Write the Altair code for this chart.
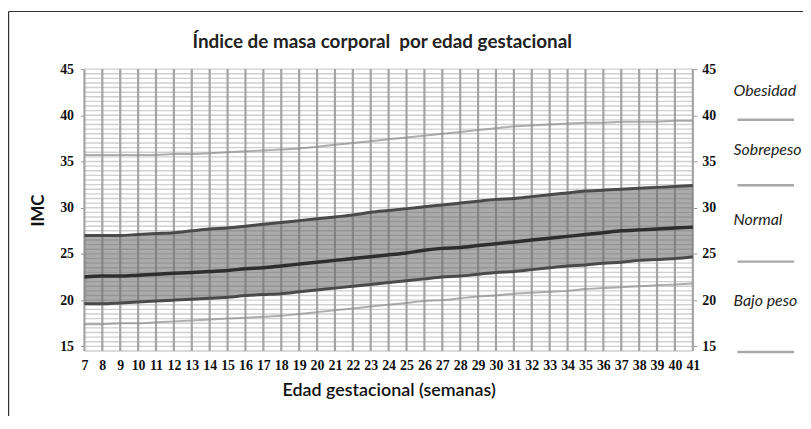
import altair as alt
import pandas as pd
import numpy as np

# ---------------- data ----------------
weeks = list(range(7, 42))
upper = [27.0, 27.0, 27.0, 27.1, 27.2, 27.3, 27.5, 27.7, 27.8, 28.0, 28.2, 28.4,
         28.6, 28.8, 29.0, 29.2, 29.5, 29.7, 29.9, 30.1, 30.3, 30.5, 30.7, 30.9,
         31.0, 31.2, 31.4, 31.6, 31.8, 31.9, 32.0, 32.1, 32.2, 32.3, 32.4]
middle = [22.5, 22.6, 22.6, 22.7, 22.8, 22.9, 23.0, 23.1, 23.2, 23.4, 23.5, 23.7,
          23.9, 24.1, 24.3, 24.5, 24.7, 24.9, 25.1, 25.4, 25.6, 25.7, 25.9, 26.1,
          26.3, 26.5, 26.7, 26.9, 27.1, 27.3, 27.5, 27.6, 27.7, 27.8, 27.9]
lower = [19.6, 19.6, 19.7, 19.8, 19.9, 20.0, 20.1, 20.2, 20.3, 20.5, 20.6, 20.7,
         20.9, 21.1, 21.3, 21.5, 21.7, 21.9, 22.1, 22.3, 22.5, 22.6, 22.8, 23.0,
         23.1, 23.3, 23.5, 23.7, 23.8, 24.0, 24.1, 24.3, 24.4, 24.5, 24.7]
obesidad = [35.7, 35.7, 35.7, 35.7, 35.7, 35.8, 35.8, 35.9, 36.0, 36.1, 36.2, 36.3,
            36.4, 36.6, 36.8, 37.0, 37.2, 37.4, 37.6, 37.8, 38.0, 38.2, 38.4, 38.6,
            38.8, 38.9, 39.0, 39.1, 39.2, 39.2, 39.3, 39.3, 39.3, 39.4, 39.4]
bajo = [17.4, 17.4, 17.5, 17.5, 17.6, 17.7, 17.8, 17.9, 18.0, 18.1, 18.2, 18.3,
        18.5, 18.7, 18.9, 19.1, 19.3, 19.5, 19.7, 19.9, 20.0, 20.2, 20.4, 20.5,
        20.7, 20.8, 20.9, 21.0, 21.2, 21.3, 21.4, 21.5, 21.6, 21.7, 21.8]
y_ticks = [15, 20, 25, 30, 35, 40, 45]
x_ticks = weeks
legend_labels = ["Obesidad", "Sobrepeso", "Normal", "Bajo peso"]

title_text = "Índice de masa corporal\u00a0 por edad gestacional"
x_title = "Edad gestacional (semanas)"
y_title = "IMC"

df = pd.DataFrame({"semana": weeks, "sup": upper, "med": middle, "inf": lower,
                   "obes": obesidad, "bajo": bajo})
grid_df = pd.DataFrame({"g": np.arange(14.5, 45.01, 0.5)})

# ---------------- layout ----------------
W, H = 613, 284
xscale = alt.Scale(domain=[7, 41], nice=False, zero=False)
yscale = alt.Scale(domain=[14.5, 45], nice=False, zero=False)
NUM_FONT = "Liberation Serif"
TXT_FONT = "Lato"

x_axis = alt.Axis(values=x_ticks, title=x_title, labelOverlap=False,
                  labelFlush=False, ticks=False, domain=False, grid=False,
                  labelFont=NUM_FONT, labelFontSize=14, labelColor="#111",
                  labelFontWeight="bold", labelPadding=8,
                  titleFont=TXT_FONT, titleFontSize=18,
                  titleFontWeight=600, titleColor="#111", titlePadding=9)
x_enc = alt.X("semana:Q", scale=xscale, axis=x_axis)

hgrid = alt.Chart(grid_df).mark_rule(color="#cfcfcf", strokeWidth=1.4).encode(
    y=alt.Y("g:Q", scale=yscale, axis=None)
)

vgrid = alt.Chart(df).mark_rule(color="#a4a4a4", strokeWidth=2.2).encode(x=x_enc)

band = alt.Chart(df).mark_area(color="#6a6a6a", opacity=0.56).encode(
    x=x_enc,
    y=alt.Y("inf:Q", scale=yscale,
            axis=alt.Axis(orient="right", values=y_ticks, title=None, grid=False,
                          labelFlush=False, domain=False, tickSize=4,
                          tickColor="#999", labelPadding=5, labelFont=NUM_FONT,
                          labelFontSize=14, labelFontWeight="bold",
                          labelColor="#111")),
    y2="sup:Q",
)


def curve(col, color, width, opacity=1.0, with_axis=False):
    ax = None
    if with_axis:
        ax = alt.Axis(orient="left", values=y_ticks, title=y_title, grid=False,
                      labelFlush=False, domain=False, tickSize=4, tickColor="#999",
                      labelPadding=7, labelFont=NUM_FONT, labelFontSize=14,
                      labelFontWeight="bold", labelColor="#111",
                      titleFont=TXT_FONT, titleFontSize=17, titleFontWeight="bold",
                      titleColor="#111", titlePadding=12)
    return alt.Chart(df).mark_line(color=color, strokeWidth=width,
                                   opacity=opacity, interpolate="monotone").encode(
        x=x_enc,
        y=alt.Y(f"{col}:Q", scale=yscale, axis=ax),
    )


lines = [
    curve("obes", "#8c8c8c", 2.0, 0.7),
    curve("bajo", "#8c8c8c", 2.0, 0.7),
    curve("sup", "#4a4a4a", 3.0),
    curve("inf", "#4a4a4a", 3.0),
    curve("med", "#2e2e2e", 3.5, with_axis=True),
]

# right-hand key (labels and their little grey lines)
label_px = [22, 82, 152, 234]
rule_px = [51, 117, 194, 285]
key = []
for lab, py in zip(legend_labels, label_px):
    key.append(alt.Chart(pd.DataFrame({"t": [lab]})).mark_text(
        align="left", baseline="middle", font="Lato", fontStyle="italic",
        fontSize=16, color="#222").encode(
        text="t:N", x=alt.value(654), y=alt.value(py)))
for py in rule_px:
    key.append(alt.Chart(pd.DataFrame({"k": [0]})).mark_rule(
        color="#a8a8a8", strokeWidth=2.5).encode(
        x=alt.value(658), x2=alt.value(715), y=alt.value(py)))

# outer frame of the figure (left and top edges)
frame = [
    alt.Chart(pd.DataFrame({"k": [0]})).mark_rule(color="#333", strokeWidth=1.2).encode(
        x=alt.value(-76.4), y=alt.value(-58), y2=alt.value(350)),
    alt.Chart(pd.DataFrame({"k": [0]})).mark_rule(color="#333", strokeWidth=1.2).encode(
        x=alt.value(-76.4), x2=alt.value(724), y=alt.value(-58)),
]

title = alt.Chart(pd.DataFrame({"t": [title_text]})).mark_text(
    align="center", baseline="middle", font=TXT_FONT, fontSize=19,
    fontWeight="bold", color="#222").encode(
    text="t:N", x=alt.value(300), y=alt.value(-27))

chart = alt.layer(hgrid, vgrid, band, *lines, *key, *frame, title).resolve_axis(
    y="independent"
).properties(
    width=W, height=H,
    autosize=alt.AutoSizeParams(type="none"),
    padding={"left": 77, "top": 60, "right": 111, "bottom": 64},
    background="white",
).configure_view(stroke=None)

chart.save("out.html", embed_options={"renderer": "svg", "actions": False})
